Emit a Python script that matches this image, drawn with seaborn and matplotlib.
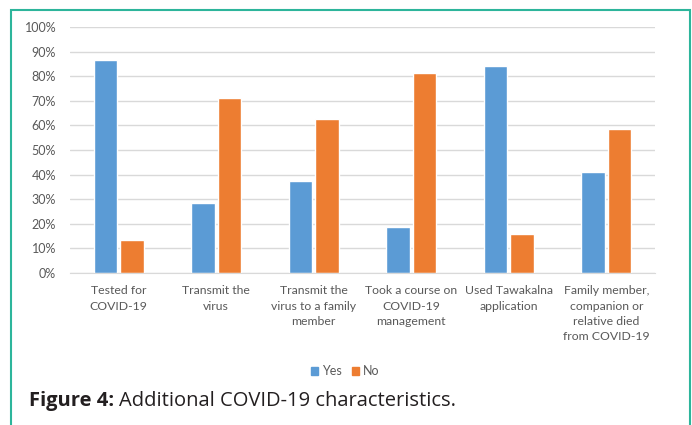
import numpy as np
import pandas as pd
import seaborn as sns
import matplotlib.pyplot as plt
from matplotlib.patches import Rectangle
from matplotlib.ticker import PercentFormatter
from matplotlib.transforms import offset_copy

# data
categories = [
    "Tested for\nCOVID-19",
    "Transmit the\nvirus",
    "Transmit the\nvirus to a family\nmember",
    "Took a course on\nCOVID-19\nmanagement",
    "Used Tawakalna\napplication",
    "Family member,\ncompanion or\nrelative died\nfrom COVID-19",
]
yes_vals = [86.6, 28.6, 37.4, 18.7, 84.0, 41.2]
no_vals = [13.4, 71.3, 62.6, 81.3, 16.0, 58.5]
answers = ["Yes", "No"]
colors = ["#5B9BD5", "#ED7D31"]

df = pd.DataFrame({
    "cat": categories * 2,
    "answer": ["Yes"] * len(categories) + ["No"] * len(categories),
    "pct": yes_vals + no_vals,
})

sns.set_style("white")
plt.rcParams["font.family"] = ["Lato", "DejaVu Sans"]

fig = plt.figure(figsize=(6.92, 4.25), dpi=100)
ax = fig.add_axes([70 / 692, 1 - 273 / 425, 585 / 692, 246 / 425])

sns.barplot(data=df, x="cat", y="pct", hue="answer", hue_order=answers,
            palette=colors, width=0.55, gap=0.12, saturation=1, ax=ax,
            legend=False)

ax.set_ylim(0, 100)
ax.set_yticks(np.arange(0, 101, 10))
ax.yaxis.set_major_formatter(PercentFormatter(decimals=0))
ax.grid(axis="y", color="#D9D9D9", linewidth=1)
ax.set_axisbelow(True)
for s in ["top", "right", "left"]:
    ax.spines[s].set_visible(False)
ax.spines["bottom"].set_color("#D9D9D9")
ax.set_xlabel("")
ax.set_ylabel("")
ax.tick_params(axis="both", length=0, labelcolor="#595959")
ax.tick_params(axis="x", pad=9, labelsize=8.8)
ax.tick_params(axis="y", pad=10, labelsize=9)
for lbl in ax.get_xticklabels():
    lbl.set_linespacing(1.45)

# legend
handles = [Rectangle((0, 0), 1, 1, color=c) for c in colors]
fig.legend(handles, answers, loc="center", bbox_to_anchor=(345 / 692, 1 - 371 / 425),
           ncol=2, frameon=False, fontsize=9, handlelength=0.6, handleheight=0.6,
           handletextpad=0.3, columnspacing=0.8, labelcolor="#595959")

# caption
cap_font = ["Open Sans", "DejaVu Sans"]
t1 = fig.text(29 / 692, 1 - 401 / 425, "Figure 4:", fontsize=14.5, fontweight="bold",
              family=cap_font, color="#231F20", va="center")
fig.canvas.draw()
w = t1.get_window_extent().width
fig.text(29 / 692, 1 - 401 / 425, "Additional COVID-19 characteristics.", fontsize=14.5,
         family=cap_font, color="#231F20", va="center",
         transform=offset_copy(fig.transFigure, fig=fig, x=w + 5, y=0, units="dots"))

# teal frame
fig.patches.append(Rectangle((11.5 / 692, -0.05), 678 / 692, 1.05 - 9.5 / 425,
                             transform=fig.transFigure, fill=False,
                             edgecolor="#2DB59B", linewidth=1.5))

fig.savefig("out.png", dpi=100)
